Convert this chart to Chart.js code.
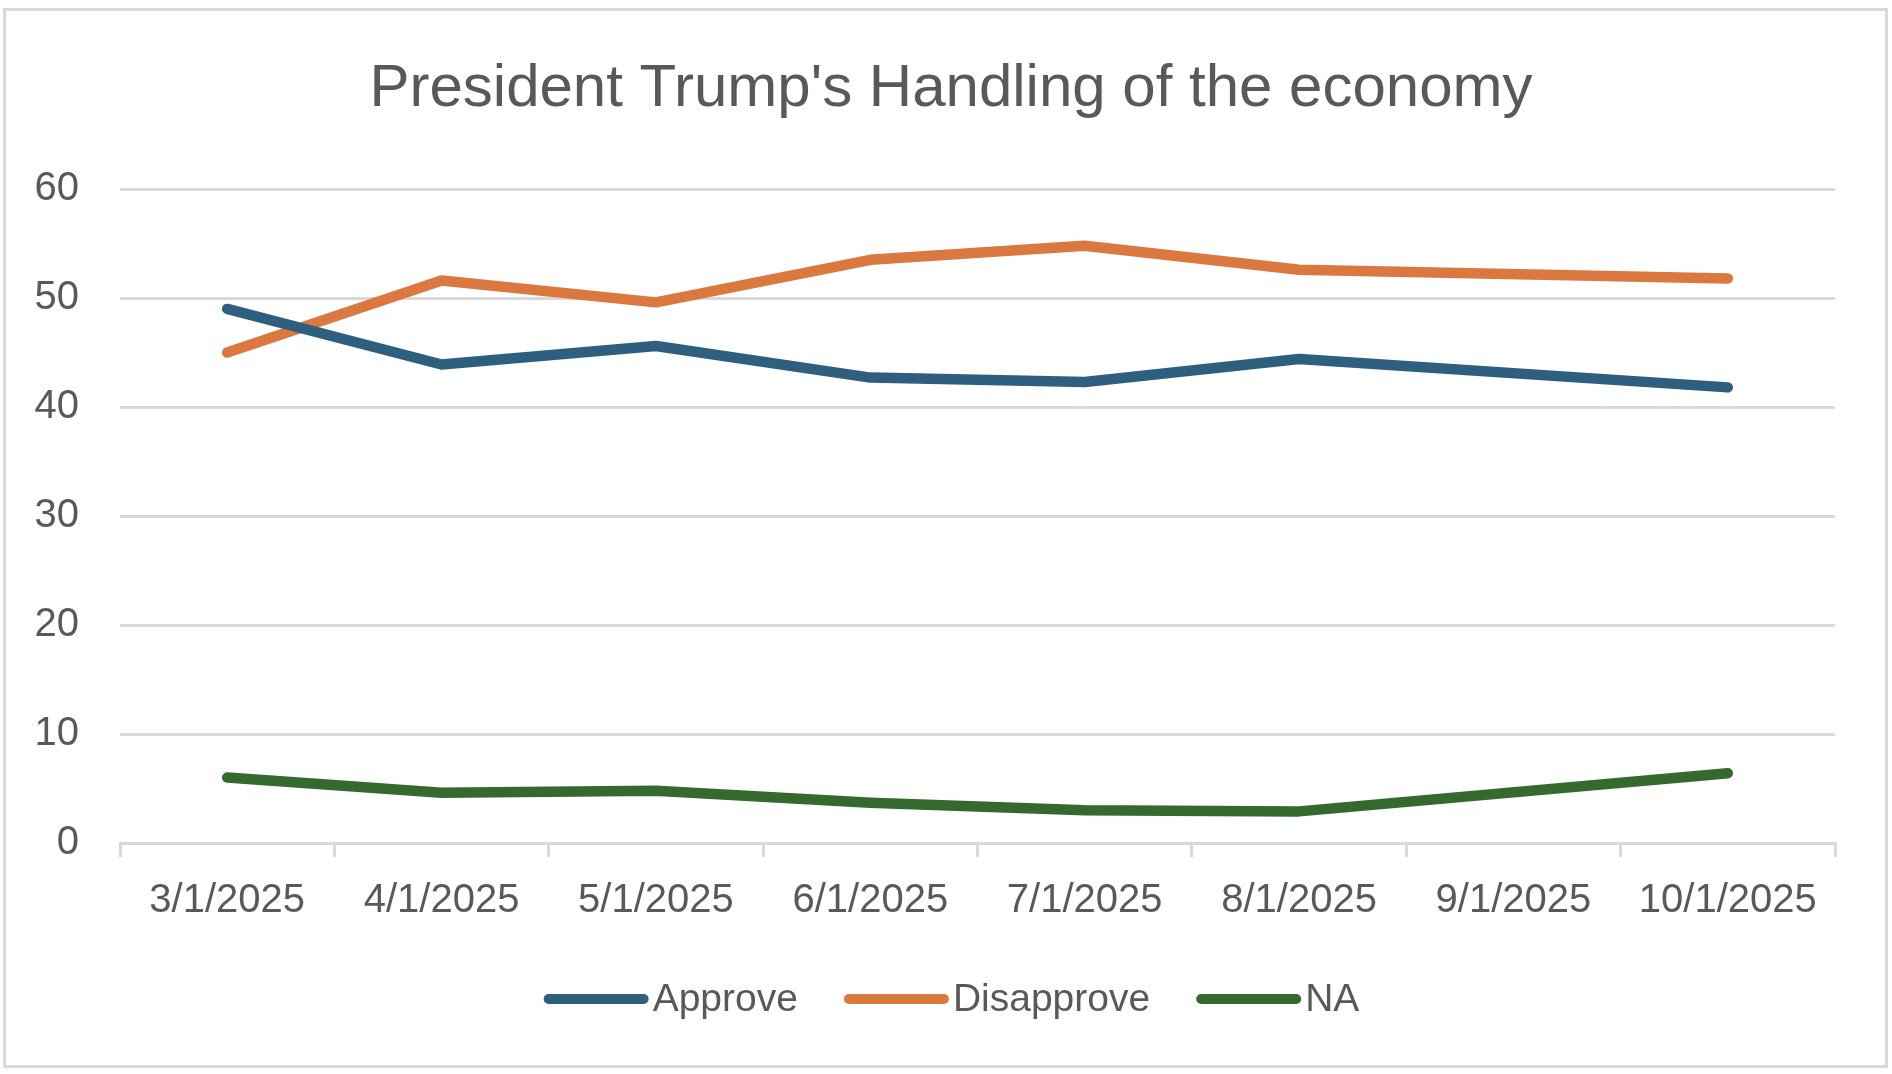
<!DOCTYPE html>
<html>
<head>
<meta charset="utf-8">
<script src="https://cdn.jsdelivr.net/npm/chart.js@4.4.1/dist/chart.umd.min.js"></script>
<style>
  html, body { margin: 0; padding: 0; background: #fff; }
  #wrap { width: 1892px; height: 1074px; }
</style>
</head>
<body>
<div id="wrap"><canvas id="econChart"></canvas></div>
<script>
// data
var chartTitle = "President Trump's Handling of the economy";
var months = ['3/1/2025', '4/1/2025', '5/1/2025', '6/1/2025', '7/1/2025', '8/1/2025', '9/1/2025', '10/1/2025'];
var approve = [49.0, 43.9, 45.6, 42.7, 42.3, 44.4, null, 41.8];
var disapprove = [45.0, 51.6, 49.6, 53.5, 54.8, 52.6, null, 51.8];
var na = [6.0, 4.6, 4.8, 3.7, 3.0, 2.9, null, 6.4];
var yTicks = [0, 10, 20, 30, 40, 50, 60];

var textColor = '#595959';
var gridColor = '#d9d9d9';
var fontFamily = '"Liberation Sans", Arial, sans-serif';

// outer frame, title and legend drawn by hand (Excel style: line then label right after)
var frameAndLegend = {
    id: 'frameAndLegend',
    afterDraw: function(chart) {
        var ctx = chart.ctx;
        ctx.save();
        ctx.strokeStyle = gridColor;
        ctx.lineWidth = 3;
        ctx.strokeRect(4.5, 9.5, 1882, 1057);

        ctx.fillStyle = textColor;
        ctx.textBaseline = 'middle';
        ctx.textAlign = 'center';
        ctx.font = '60px ' + fontFamily;
        ctx.fillText(chartTitle, 951, 89);

        var lineLen = 95, gapText = 9, gapItem = 51, y = 999;
        ctx.font = '39px ' + fontFamily;
        var items = chart.data.datasets.map(function(ds) {
            return { label: ds.label, color: ds.borderColor, w: ctx.measureText(ds.label).width };
        });
        var total = 0;
        items.forEach(function(it, i) {
            total += lineLen + gapText + it.w + (i < items.length - 1 ? gapItem : 0);
        });
        var x = 954 - total / 2;
        items.forEach(function(it) {
            ctx.strokeStyle = it.color;
            ctx.lineWidth = 10;
            ctx.lineCap = 'round';
            ctx.beginPath();
            ctx.moveTo(x, y);
            ctx.lineTo(x + lineLen, y);
            ctx.stroke();
            ctx.fillStyle = textColor;
            ctx.textAlign = 'left';
            ctx.fillText(it.label, x + lineLen + gapText, y + 1);
            x += lineLen + gapText + it.w + gapItem;
        });
        ctx.restore();
    }
};

function lineSet(label, data, color) {
    return {
        label: label,
        data: data,
        borderColor: color,
        backgroundColor: color,
        borderWidth: 10.5,
        borderCapStyle: 'round',
        borderJoinStyle: 'round',
        pointRadius: 0,
        pointHoverRadius: 0,
        tension: 0,
        spanGaps: true,
        fill: false
    };
}

var ctx = document.getElementById('econChart').getContext('2d');
new Chart(ctx, {
    type: 'line',
    data: {
        labels: months,
        datasets: [
            lineSet('Approve', approve, '#2e5f7f'),
            lineSet('Disapprove', disapprove, '#db7840'),
            lineSet('NA', na, '#356a2e')
        ]
    },
    options: {
        responsive: true,
        maintainAspectRatio: false,
        animation: false,
        events: [],
        layout: {
            padding: { top: 189, left: 35, right: 57, bottom: 129 }
        },
        plugins: {
            legend: { display: false },
            tooltip: { enabled: false },
            title: { display: false }
        },
        scales: {
            x: {
                offset: true,
                grid: {
                    offset: true,
                    drawOnChartArea: false,
                    drawTicks: true,
                    tickLength: 14,
                    color: gridColor,
                    lineWidth: 3
                },
                border: { display: true, color: gridColor, width: 3 },
                ticks: {
                    color: textColor,
                    font: { family: fontFamily, size: 40 },
                    padding: 20,
                    maxRotation: 0,
                    autoSkip: false
                }
            },
            y: {
                min: 0,
                max: 60,
                afterFit: function(scale) { scale.width = 85; },
                afterBuildTicks: function(scale) {
                    scale.ticks = yTicks.map(function(v) { return { value: v }; });
                },
                grid: { color: gridColor, lineWidth: 3, drawTicks: false },
                border: { display: false },
                ticks: {
                    color: textColor,
                    font: { family: fontFamily, size: 40 },
                    padding: 41
                }
            }
        }
    },
    plugins: [frameAndLegend]
});
</script>
</body>
</html>
